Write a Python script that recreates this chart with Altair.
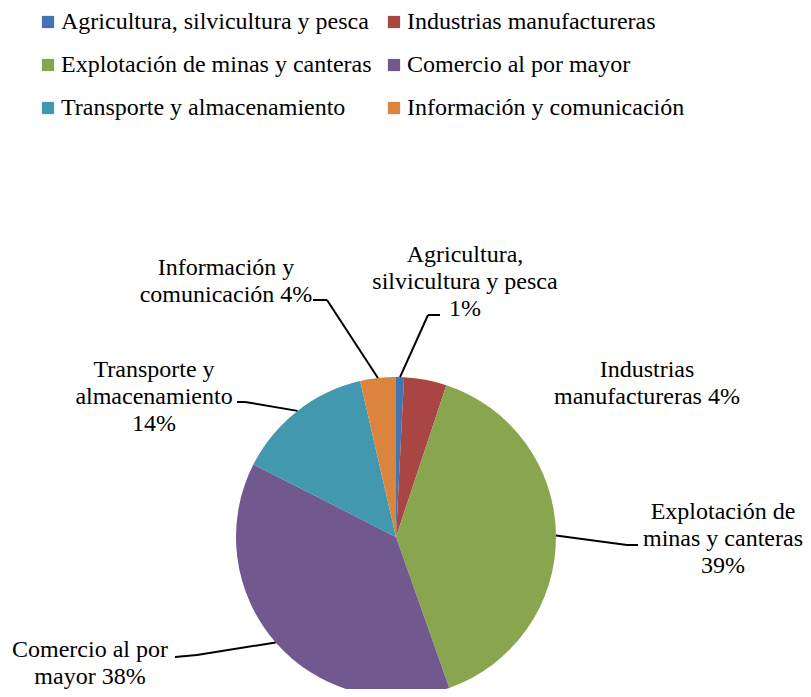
import altair as alt
import pandas as pd

# ---------------- data ----------------
categories = [
    "Agricultura, silvicultura y pesca",
    "Industrias manufactureras",
    "Explotación de minas y canteras",
    "Comercio al por mayor",
    "Transporte y almacenamiento",
    "Información y comunicación",
]
shares = [0.8, 4.3, 39.5, 37.9, 13.9, 3.6]
label_lines = [
    ["Agricultura,", "silvicultura y pesca", "1%"],
    ["Industrias", "manufactureras 4%"],
    ["Explotación de", "minas y canteras", "39%"],
    ["Comercio al por", "mayor 38%"],
    ["Transporte y", "almacenamiento", "14%"],
    ["Información y", "comunicación 4%"],
]

# ---------------- style / layout ----------------
colors = ["#4374B3", "#A94643", "#89A54E", "#71588F", "#4298AF", "#DB843D"]
FONT = "Liberation Serif"
M = 8  # page margin
CX, CY, R = 396 - M, 537 - M, 160
# first-line centre of each label block (page pixels)
label_x = [465, 647, 723, 90, 154, 226]
label_y = [255, 370, 512, 650, 370, 268]
elbow_x = [428, None, 627, 197, 245, 327]
elbow_y = [315, None, 545, 655, 402, 300]
end_x = [440, None, 638, 175, 237, 313]
end_y = [315, None, 545, 657, 402, 300]


def shift(v):
    return None if v is None else v - M


df = pd.DataFrame({
    "category": categories,
    "value": shares,
    "order": list(range(len(categories))),
    "label": ["\n".join(l) for l in label_lines],
    "lx": [shift(v) for v in label_x],
    "ly": [shift(v) for v in label_y],
    "bx": [shift(v) for v in elbow_x],
    "by": [shift(v) for v in elbow_y],
    "ex": [shift(v) for v in end_x],
    "ey": [shift(v) for v in end_y],
})

base = alt.Chart(df)

pie = base.mark_arc(outerRadius=R).encode(
    theta=alt.Theta("value:Q", stack=True),
    order=alt.Order("order:Q"),
    color=alt.Color(
        "category:N",
        scale=alt.Scale(domain=categories, range=colors),
        sort=categories,
        legend=alt.Legend(
            title=None,
            orient="none",
            direction="horizontal",
            legendX=28,
            legendY=2,
            columns=2,
            symbolType="square",
            symbolSize=150,
            symbolStrokeWidth=0,
            labelFont=FONT,
            labelFontSize=24,
            labelColor="#000000",
            labelLimit=0,
            labelOffset=1,
            columnPadding=10,
            rowPadding=19,
            padding=0,
        ),
    ),
    x=alt.value(CX),
    y=alt.value(CY),
)

edge_calc = (
    base.transform_window(cum="sum(value)", sort=[alt.SortField("order")], frame=[None, 0])
    .transform_joinaggregate(total="sum(value)")
    .transform_calculate(mid="2*PI*(datum.cum - datum.value/2)/datum.total")
    .transform_calculate(
        sx=f"{CX} + {R}*sin(datum.mid)",
        sy=f"{CY} - {R}*cos(datum.mid)",
    )
    .transform_filter("isValid(datum.bx)")
)

seg1 = edge_calc.mark_rule(color="#000000", strokeWidth=2).encode(
    x=alt.X("sx:Q", scale=None),
    y=alt.Y("sy:Q", scale=None),
    x2="bx:Q",
    y2="by:Q",
)
seg2 = edge_calc.mark_rule(color="#000000", strokeWidth=2).encode(
    x=alt.X("bx:Q", scale=None),
    y=alt.Y("by:Q", scale=None),
    x2="ex:Q",
    y2="ey:Q",
)

labels = base.mark_text(
    lineBreak="\n",
    align="center",
    baseline="middle",
    font=FONT,
    fontSize=24,
    lineHeight=27,
    color="#000000",
).encode(
    x=alt.X("lx:Q", scale=None),
    y=alt.Y("ly:Q", scale=None),
    text="label:N",
)

chart = (
    alt.layer(pie, seg1, seg2, labels)
    .properties(width=795, height=681, padding=0, autosize=alt.AutoSizeParams(type="none"))
    .configure_view(strokeWidth=0)
)

chart.save("out.html", embed_options={"renderer": "svg", "actions": False})
